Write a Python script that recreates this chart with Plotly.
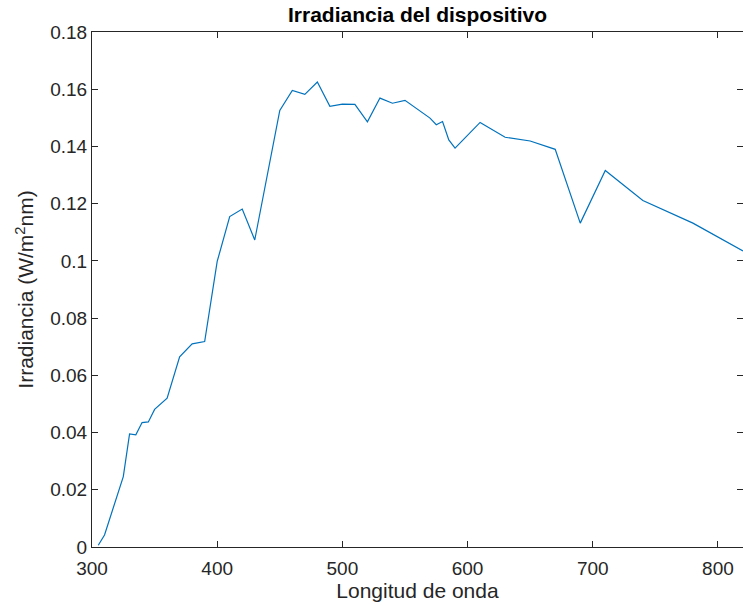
import plotly.graph_objects as go

# Data
wavelength = [305, 310, 325, 330, 335, 340, 345, 350, 360, 370, 380, 390, 400, 410,
              420, 430, 450, 460, 470, 480, 490, 500, 510, 520, 530, 540, 550, 570,
              575, 580, 585, 590, 610, 630, 650, 670, 690, 710, 740, 780, 820]
irradiance = [0.0006, 0.0042, 0.0246, 0.0395, 0.0392, 0.0435, 0.0437, 0.0481, 0.0520,
              0.0665, 0.0710, 0.0718, 0.0998, 0.1155, 0.1181, 0.1073, 0.1526, 0.1596,
              0.1582, 0.1625, 0.1540, 0.1548, 0.1547, 0.1486, 0.1569, 0.1551, 0.1561,
              0.1499, 0.1476, 0.1487, 0.1423, 0.1394, 0.1484, 0.1432, 0.1419, 0.1390,
              0.1132, 0.1316, 0.1211, 0.1132, 0.1035]

x_ticks = [300, 400, 500, 600, 700, 800]
y_ticks = [0, 0.02, 0.04, 0.06, 0.08, 0.1, 0.12, 0.14, 0.16, 0.18]
y_ticktext = ["0", "0.02", "0.04", "0.06", "0.08", "0.1", "0.12", "0.14", "0.16", "0.18"]

FONT = "Liberation Sans, Arial, Helvetica, sans-serif"
AX = "#262626"

fig = go.Figure()
fig.add_trace(go.Scatter(x=wavelength, y=irradiance, mode="lines",
                         line=dict(color="#0072BD", width=1.2), showlegend=False))

axis_common = dict(showgrid=False, zeroline=False, showline=True, linecolor=AX,
                   linewidth=1, mirror="ticks", ticks="inside", ticklen=6,
                   tickcolor=AX, tickwidth=1,
                   tickfont=dict(family=FONT, size=19, color=AX))

fig.update_xaxes(range=[300, 820], tickvals=x_ticks, ticklabelstandoff=4,
                 title=dict(text="Longitud de onda", font=dict(family=FONT, size=21, color=AX),
                            standoff=4),
                 **axis_common)
fig.update_yaxes(range=[0, 0.18], tickvals=y_ticks, ticktext=y_ticktext,
                 title=dict(text="Irradiancia (W/m<sup>2</sup>nm)",
                            font=dict(family=FONT, size=21, color=AX), standoff=10),
                 **axis_common)

fig.update_layout(
    width=743, height=612,
    margin=dict(l=92, r=0, t=32, b=65),
    paper_bgcolor="white", plot_bgcolor="white",
    title=dict(text="<b>Irradiancia del dispositivo</b>", x=(92 + 743) / 2 / 743,
               xanchor="center", y=1 - 22 / 612, yanchor="bottom",
               font=dict(family=FONT, size=21, color="black")),
)

fig.write_html("out.html")
